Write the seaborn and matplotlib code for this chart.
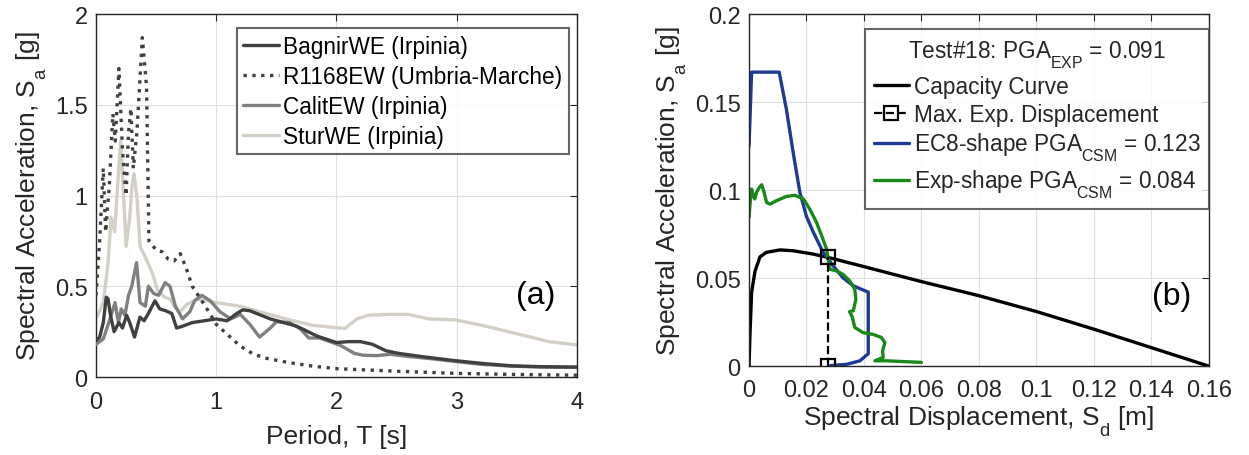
import numpy as np
import pandas as pd
import matplotlib
matplotlib.use("Agg")
import matplotlib.pyplot as plt
import matplotlib._mathtext as mathtext_internal
import seaborn as sns
from matplotlib.lines import Line2D
from matplotlib.ticker import FuncFormatter

# ---------------- (a) response spectra ----------------
bagnir_T = [0, 0.03, 0.06, 0.085, 0.10, 0.12, 0.15, 0.19, 0.22, 0.255, 0.28, 0.32, 0.365, 0.40,
            0.435, 0.49, 0.53, 0.58, 0.63, 0.67, 0.72, 0.80, 0.90, 1.00, 1.09, 1.17, 1.22, 1.28,
            1.45, 1.67, 1.84, 2.00, 2.10, 2.20, 2.30, 2.41, 2.52, 2.74, 2.99, 3.21, 3.45, 3.70, 4.00]
bagnir_Sa = [0.20, 0.22, 0.30, 0.44, 0.43, 0.34, 0.25, 0.30, 0.27, 0.34, 0.30, 0.22, 0.33, 0.31,
             0.35, 0.42, 0.375, 0.365, 0.35, 0.27, 0.28, 0.30, 0.31, 0.32, 0.31, 0.35, 0.37, 0.365,
             0.32, 0.28, 0.225, 0.19, 0.195, 0.195, 0.18, 0.145, 0.13, 0.11, 0.09, 0.075, 0.062, 0.057, 0.055]

r1168_T = [0, 0.03, 0.06, 0.08, 0.11, 0.14, 0.16, 0.19, 0.22, 0.25, 0.27, 0.29, 0.31, 0.34,
           0.385, 0.42, 0.44, 0.50, 0.55, 0.60, 0.65, 0.70, 0.75, 0.80, 0.90, 1.00, 1.10, 1.20,
           1.30, 1.40, 1.60, 1.80, 2.00, 2.50, 3.00, 3.50, 4.00]
r1168_Sa = [0.45, 0.75, 1.15, 0.80, 1.05, 1.45, 1.30, 1.70, 1.25, 1.00, 1.35, 1.48, 1.15, 1.35,
            1.87, 1.60, 0.75, 0.70, 0.69, 0.65, 0.64, 0.68, 0.60, 0.50, 0.40, 0.29, 0.23, 0.17,
            0.13, 0.105, 0.08, 0.06, 0.046, 0.032, 0.02, 0.014, 0.01]

calit_T = [0, 0.06, 0.116, 0.158, 0.186, 0.21, 0.24, 0.27, 0.297, 0.337, 0.366, 0.41, 0.435,
           0.48, 0.52, 0.575, 0.615, 0.66, 0.72, 0.78, 0.82, 0.88, 0.95, 1.03, 1.12, 1.20, 1.28,
           1.36, 1.45, 1.50, 1.61, 1.70, 1.77, 1.86, 2.03, 2.15, 2.22, 2.33, 2.45, 2.60, 2.80,
           3.00, 3.20, 3.45, 3.70, 4.00]
calit_Sa = [0.18, 0.21, 0.32, 0.41, 0.30, 0.375, 0.34, 0.45, 0.50, 0.63, 0.41, 0.39, 0.50,
            0.46, 0.45, 0.52, 0.50, 0.39, 0.32, 0.36, 0.42, 0.45, 0.42, 0.36, 0.32, 0.345, 0.29,
            0.22, 0.27, 0.305, 0.30, 0.265, 0.215, 0.215, 0.175, 0.13, 0.12, 0.118, 0.125, 0.113,
            0.10, 0.085, 0.07, 0.06, 0.055, 0.053]

stur_T = [0, 0.06, 0.10, 0.125, 0.155, 0.186, 0.205, 0.23, 0.25, 0.28, 0.30, 0.316, 0.34,
          0.366, 0.41, 0.47, 0.51, 0.57, 0.615, 0.66, 0.70, 0.755, 0.84, 0.92, 1.00, 1.20,
          1.36, 1.58, 1.80, 1.95, 2.07, 2.17, 2.26, 2.43, 2.60, 2.77, 2.99, 3.21, 3.49, 3.77, 4.00]
stur_Sa = [0.32, 0.41, 0.63, 0.88, 0.80, 1.12, 1.30, 0.99, 0.72, 0.88, 1.06, 1.12, 0.99,
           0.72, 0.66, 0.57, 0.48, 0.44, 0.43, 0.38, 0.36, 0.40, 0.43, 0.42, 0.41, 0.39,
           0.36, 0.32, 0.285, 0.275, 0.268, 0.32, 0.34, 0.345, 0.345, 0.32, 0.315, 0.285, 0.24, 0.195, 0.177]

record_names = ["BagnirWE (Irpinia)", "R1168EW (Umbria-Marche)", "CalitEW (Irpinia)", "SturWE (Irpinia)"]

# ---------------- (b) capacity spectrum method ----------------
cap_Sd = [0, 0.00035, 0.0009, 0.0021, 0.0038, 0.006, 0.0108, 0.0154, 0.0224, 0.0276,
          0.04, 0.06, 0.08, 0.10, 0.12, 0.14, 0.16]
cap_Sa = [0, 0.019, 0.042, 0.054, 0.062, 0.0646, 0.066, 0.0655, 0.0636, 0.0617,
          0.0565, 0.048, 0.040, 0.031, 0.021, 0.0105, 0.0]

ec8_Sd = [0, 0.0009, 0.0105, 0.013, 0.0154, 0.0177, 0.020, 0.0224, 0.0258, 0.0293, 0.0328,
          0.0363, 0.0415, 0.0415, 0.0386, 0.034, 0.0293, 0.0282]
ec8_Sa = [0.125, 0.167, 0.167, 0.146, 0.121, 0.0987, 0.085, 0.076, 0.0646, 0.057, 0.050,
          0.0456, 0.042, 0.007, 0.003, 0.001, 0.0004, 0.0002]

exp_Sd = [0, 0.0003, 0.0009, 0.0015, 0.002, 0.0027, 0.0036, 0.0044, 0.0052, 0.0061, 0.0073,
          0.0096, 0.013, 0.016, 0.0189, 0.0212, 0.0235, 0.0253, 0.027, 0.0282, 0.0305, 0.0328,
          0.035, 0.0368, 0.0372, 0.0363, 0.035, 0.036, 0.0368, 0.0397, 0.0432, 0.046, 0.0473,
          0.0465, 0.0467, 0.0438, 0.0478, 0.060]
exp_Sa = [0.0845, 0.091, 0.1006, 0.097, 0.095, 0.099, 0.1015, 0.103, 0.099, 0.093, 0.092,
          0.094, 0.0964, 0.097, 0.095, 0.089, 0.0816, 0.074, 0.0665, 0.055, 0.054, 0.052,
          0.0485, 0.0437, 0.038, 0.0314, 0.031, 0.0276, 0.022, 0.019, 0.018, 0.0163, 0.0134,
          0.0087, 0.0049, 0.003, 0.003, 0.0021]

max_exp_Sd = [0.0276, 0.0276]
max_exp_Sa = [0.0, 0.0617]

legend_title_b = "Test#18: PGA$_\\mathrm{EXP}$ = 0.091"
labels_b = ["Capacity Curve", "Max. Exp. Displacement",
            "EC8-shape PGA$_\\mathrm{CSM}$ = 0.123", "Exp-shape PGA$_\\mathrm{CSM}$ = 0.084"]

# ---------------- styling ----------------
sns.set_theme(style="white")
plt.rcParams["font.family"] = ["Liberation Sans", "DejaVu Sans"]
plt.rcParams["mathtext.fontset"] = "custom"
plt.rcParams["mathtext.rm"] = "Liberation Sans"
plt.rcParams["mathtext.it"] = "Liberation Sans"
plt.rcParams["mathtext.bf"] = "Liberation Sans:bold"
# deeper subscripts, TeX-interpreter style
mathtext_internal.FontConstantsBase.sub1 = 0.8

TICK_FS = 17
LABEL_FS = 19
LEGEND_FS = 16.3
TAG_FS = 23

txt = "#262626"
fig = plt.figure(figsize=(12.49, 4.56), dpi=100)
ax1 = fig.add_axes([0.0769, 0.171, 0.385, 0.796])
ax2 = fig.add_axes([0.5997, 0.195, 0.368, 0.772])


def matlab_axes(ax, xpad):
    for s in ax.spines.values():
        s.set_visible(True)
        s.set_color(txt)
        s.set_linewidth(1.0)
    ax.grid(True, color="#e0e0e0", linewidth=0.8)
    ax.set_axisbelow(True)
    ax.tick_params(direction="in", length=5, width=0.8, top=True, right=True,
                   labelsize=TICK_FS, colors=txt)
    ax.tick_params(axis="x", pad=xpad)
    ax.tick_params(axis="y", pad=6)
    ax.xaxis.set_major_formatter(FuncFormatter(lambda v, p: f"{v:g}"))
    ax.yaxis.set_major_formatter(FuncFormatter(lambda v, p: f"{v:g}"))


# panel (a)
series_a = [
    (bagnir_T, bagnir_Sa, "#404040", "-"),
    (r1168_T, r1168_Sa, "#404040", ":"),
    (calit_T, calit_Sa, "#808080", "-"),
    (stur_T, stur_Sa, "#d4d0c8", "-"),
]
handles_a = []
for (T, Sa, col, ls), name in zip(series_a, record_names):
    sns.lineplot(x=T, y=Sa, ax=ax1, color=col, linestyle=ls, linewidth=2.4,
                 sort=False, estimator=None)
    handles_a.append(Line2D([], [], color=col, linestyle=ls, linewidth=2.4))
# draw the lighter records beneath the darker ones
for ln, z in zip(ax1.lines, [5, 4, 3, 2]):
    ln.set_zorder(z)

ax1.set_xlim(0, 4)
ax1.set_ylim(0, 2)
ax1.set_xticks([0, 1, 2, 3, 4])
ax1.set_yticks([0, 0.5, 1, 1.5, 2])
matlab_axes(ax1, xpad=10)
ax1.set_xlabel("Period, T [s]", fontsize=LABEL_FS, color=txt, labelpad=8)
ax1.set_ylabel("Spectral Acceleration, S$_\\mathrm{a}$ [g]", fontsize=LABEL_FS, color=txt)
leg1 = ax1.legend(handles_a, record_names, loc="upper left", bbox_to_anchor=(0.2925, 0.9606),
                  borderaxespad=0, fontsize=LEGEND_FS, frameon=True, fancybox=False,
                  handlelength=1.55, handletextpad=0.2, labelspacing=0.3, borderpad=0.3)
leg1.get_frame().set_edgecolor("#404040")
leg1.get_frame().set_linewidth(1.5)
for t in leg1.get_texts():
    t.set_color("black")
ax1.text(3.66, 0.45, "(a)", fontsize=TAG_FS, ha="center", va="center", color="black")

# panel (b)
blue = "#1f3a93"
green = "#198a19"
sns.lineplot(x=cap_Sd, y=cap_Sa, ax=ax2, color="black", linewidth=2.4, sort=False, estimator=None)
sns.lineplot(x=ec8_Sd, y=ec8_Sa, ax=ax2, color=blue, linewidth=2.4, sort=False, estimator=None)
sns.lineplot(x=exp_Sd, y=exp_Sa, ax=ax2, color=green, linewidth=2.4, sort=False, estimator=None)
sns.lineplot(x=max_exp_Sd, y=max_exp_Sa, ax=ax2, color="black", linewidth=1.6, linestyle="--",
             marker="s", markersize=10, markerfacecolor="none", markeredgecolor="black",
             markeredgewidth=1.6, sort=False, estimator=None)

ax2.set_xlim(0, 0.16)
ax2.set_ylim(0, 0.2)
ax2.set_xticks(np.arange(0, 0.161, 0.02))
ax2.set_yticks([0, 0.05, 0.1, 0.15, 0.2])
matlab_axes(ax2, xpad=9)
ax2.set_xlabel("Spectral Displacement, S$_\\mathrm{d}$ [m]", fontsize=LABEL_FS, color=txt, labelpad=2)
ax2.set_ylabel("Spectral Acceleration, S$_\\mathrm{a}$ [g]", fontsize=LABEL_FS, color=txt)

handles_b = [
    Line2D([], [], color="black", linewidth=2.4),
    Line2D([], [], color="black", linewidth=1.6, linestyle="--", marker="s", markersize=10,
           markerfacecolor="none", markeredgewidth=1.6),
    Line2D([], [], color=blue, linewidth=2.4),
    Line2D([], [], color=green, linewidth=2.4),
]
leg2 = ax2.legend(handles_b, labels_b, title=legend_title_b, loc="upper left",
                  bbox_to_anchor=(0.252, 0.957), borderaxespad=0, fontsize=LEGEND_FS,
                  title_fontsize=LEGEND_FS, frameon=True, fancybox=False, handlelength=1.55,
                  handletextpad=0.2, labelspacing=0.22, borderpad=0.4)
leg2.get_frame().set_edgecolor("#404040")
leg2.get_frame().set_linewidth(1.5)
ax2.text(0.147, 0.040, "(b)", fontsize=TAG_FS, ha="center", va="center", color="black")

fig.savefig("out.png", dpi=100)
